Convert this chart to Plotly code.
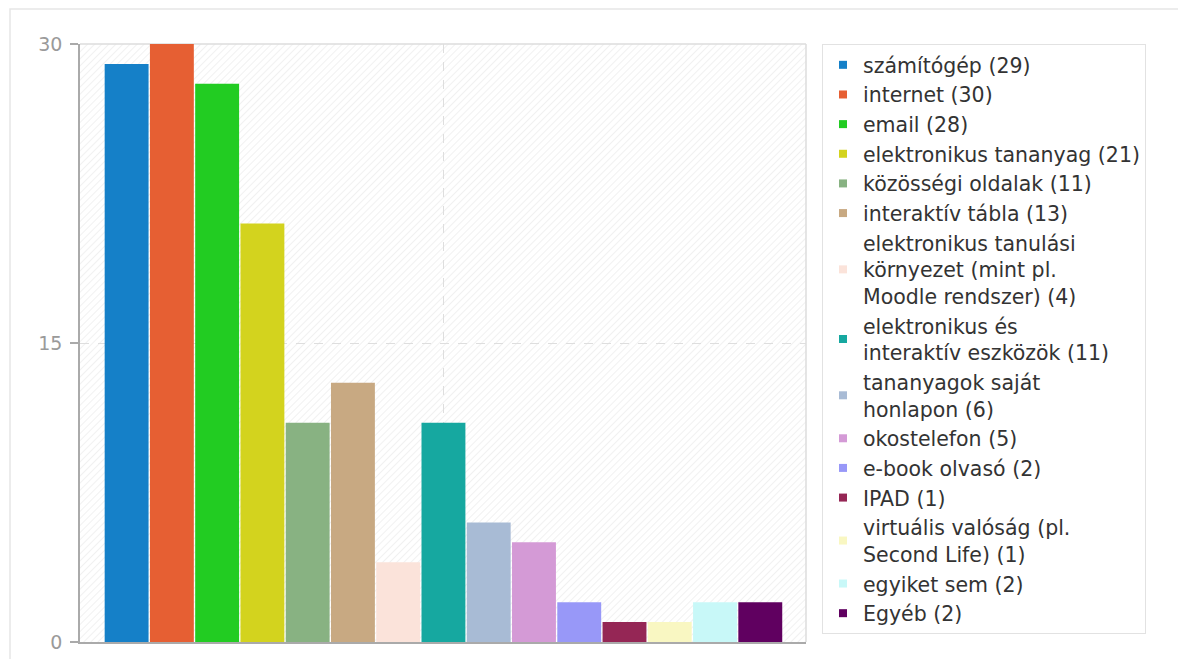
import base64
import plotly.graph_objects as go

categories = [
    "számítógép",
    "internet",
    "email",
    "elektronikus tananyag",
    "közösségi oldalak",
    "interaktív tábla",
    "elektronikus tanulási<br>környezet (mint pl.<br>Moodle rendszer)",
    "elektronikus és<br>interaktív eszközök",
    "tananyagok saját<br>honlapon",
    "okostelefon",
    "e-book olvasó",
    "IPAD",
    "virtuális valóság (pl.<br>Second Life)",
    "egyiket sem",
    "Egyéb",
]
values = [29, 30, 28, 21, 11, 13, 4, 11, 6, 5, 2, 1, 1, 2, 2]
colors = [
    "#1580c8", "#e65f33", "#22cc22", "#d3d31e", "#88b282",
    "#c8a982", "#fbe3da", "#16a8a0", "#a8bbd5", "#d49ad6",
    "#9898f8", "#952655", "#f9f7c2", "#c8f8f8", "#600060",
]
y_ticks = [0, 15, 30]

# page has an 8px body margin
W, H = 1170, 651
ML, MT = 72, 36
PW, PH = 726, 598
MR = W - ML - PW
MB = H - MT - PH

fig = go.Figure()
fig.add_trace(go.Bar(
    x=categories, y=values, marker_color=colors, marker_line_width=0,
    showlegend=False, hoverinfo="x+y",
))
for c, v, col in zip(categories, values, colors):
    fig.add_trace(go.Scatter(
        x=[None], y=[None], mode="markers", name=f"{c} ({v})",
        marker=dict(symbol="square", size=8, color=col),
    ))

svg = (
    f'<svg xmlns="http://www.w3.org/2000/svg" width="{PW}" height="{PH}">'
    '<defs><pattern id="h" patternUnits="userSpaceOnUse" width="5" height="5" '
    'patternTransform="rotate(45)"><rect width="5" height="5" fill="#ffffff"/>'
    '<line x1="0" y1="0" x2="0" y2="5" stroke="#eeeeee" stroke-width="1.6"/></pattern></defs>'
    f'<rect width="{PW}" height="{PH}" fill="url(#h)"/></svg>'
)
src = "data:image/svg+xml;base64," + base64.b64encode(svg.encode()).decode()

fig.update_layout(
    width=W, height=H,
    margin=dict(l=ML, r=MR, t=MT, b=MB, autoexpand=False),
    paper_bgcolor="white",
    plot_bgcolor="rgba(0,0,0,0)",
    font=dict(family="DejaVu Sans", color="#333"),
    bargap=0.03,
    images=[dict(source=src, xref="paper", yref="paper", x=0, y=1,
                 sizex=1, sizey=1, sizing="stretch", layer="below",
                 xanchor="left", yanchor="top")],
    xaxis=dict(
        type="category", range=[-1.03, 15.01],
        showticklabels=False, ticks="",
        tickmode="array", tickvals=[categories[7]],
        showgrid=True, gridcolor="#dedede", griddash="dash", gridwidth=1,
        showline=True, linecolor="#aaaaaa", linewidth=1.5,
        fixedrange=True,
    ),
    yaxis=dict(
        range=[0, 30], tickmode="array", tickvals=y_ticks,
        ticks="outside", ticklen=8, tickcolor="#aaaaaa", tickwidth=1.5,
        tickfont=dict(size=19, color="#9a9a9a", family="DejaVu Sans"),
        ticklabelstandoff=4,
        showgrid=True, gridcolor="#dedede", griddash="dash", gridwidth=1,
        zeroline=False,
        showline=True, linecolor="#aaaaaa", linewidth=1.5,
        fixedrange=True,
    ),
    legend=dict(
        x=(814 - ML) / PW, y=1.0, xanchor="left", yanchor="top",
        bgcolor="white", bordercolor="#e2e2e2", borderwidth=1,
        font=dict(size=20.5, color="#333333", family="DejaVu Sans"),
        tracegroupgap=0,
    ),
    shapes=[
        dict(type="line", xref="paper", yref="paper", x0=0, x1=1, y0=1, y1=1,
             line=dict(color="#dddddd", width=1.5), layer="below"),
        dict(type="line", xref="paper", yref="paper", x0=1, x1=1, y0=0, y1=1,
             line=dict(color="#dddddd", width=1.5), layer="below"),
        dict(type="rect", xref="paper", yref="paper",
             x0=(2 - ML) / PW, x1=(W + 20 - ML) / PW,
             y0=-(MB + 20) / PH, y1=(PH + MT - 1) / PH,
             line=dict(color="#e6e6e6", width=1.5), layer="below"),
    ],
)

fig.write_html("out.html")
